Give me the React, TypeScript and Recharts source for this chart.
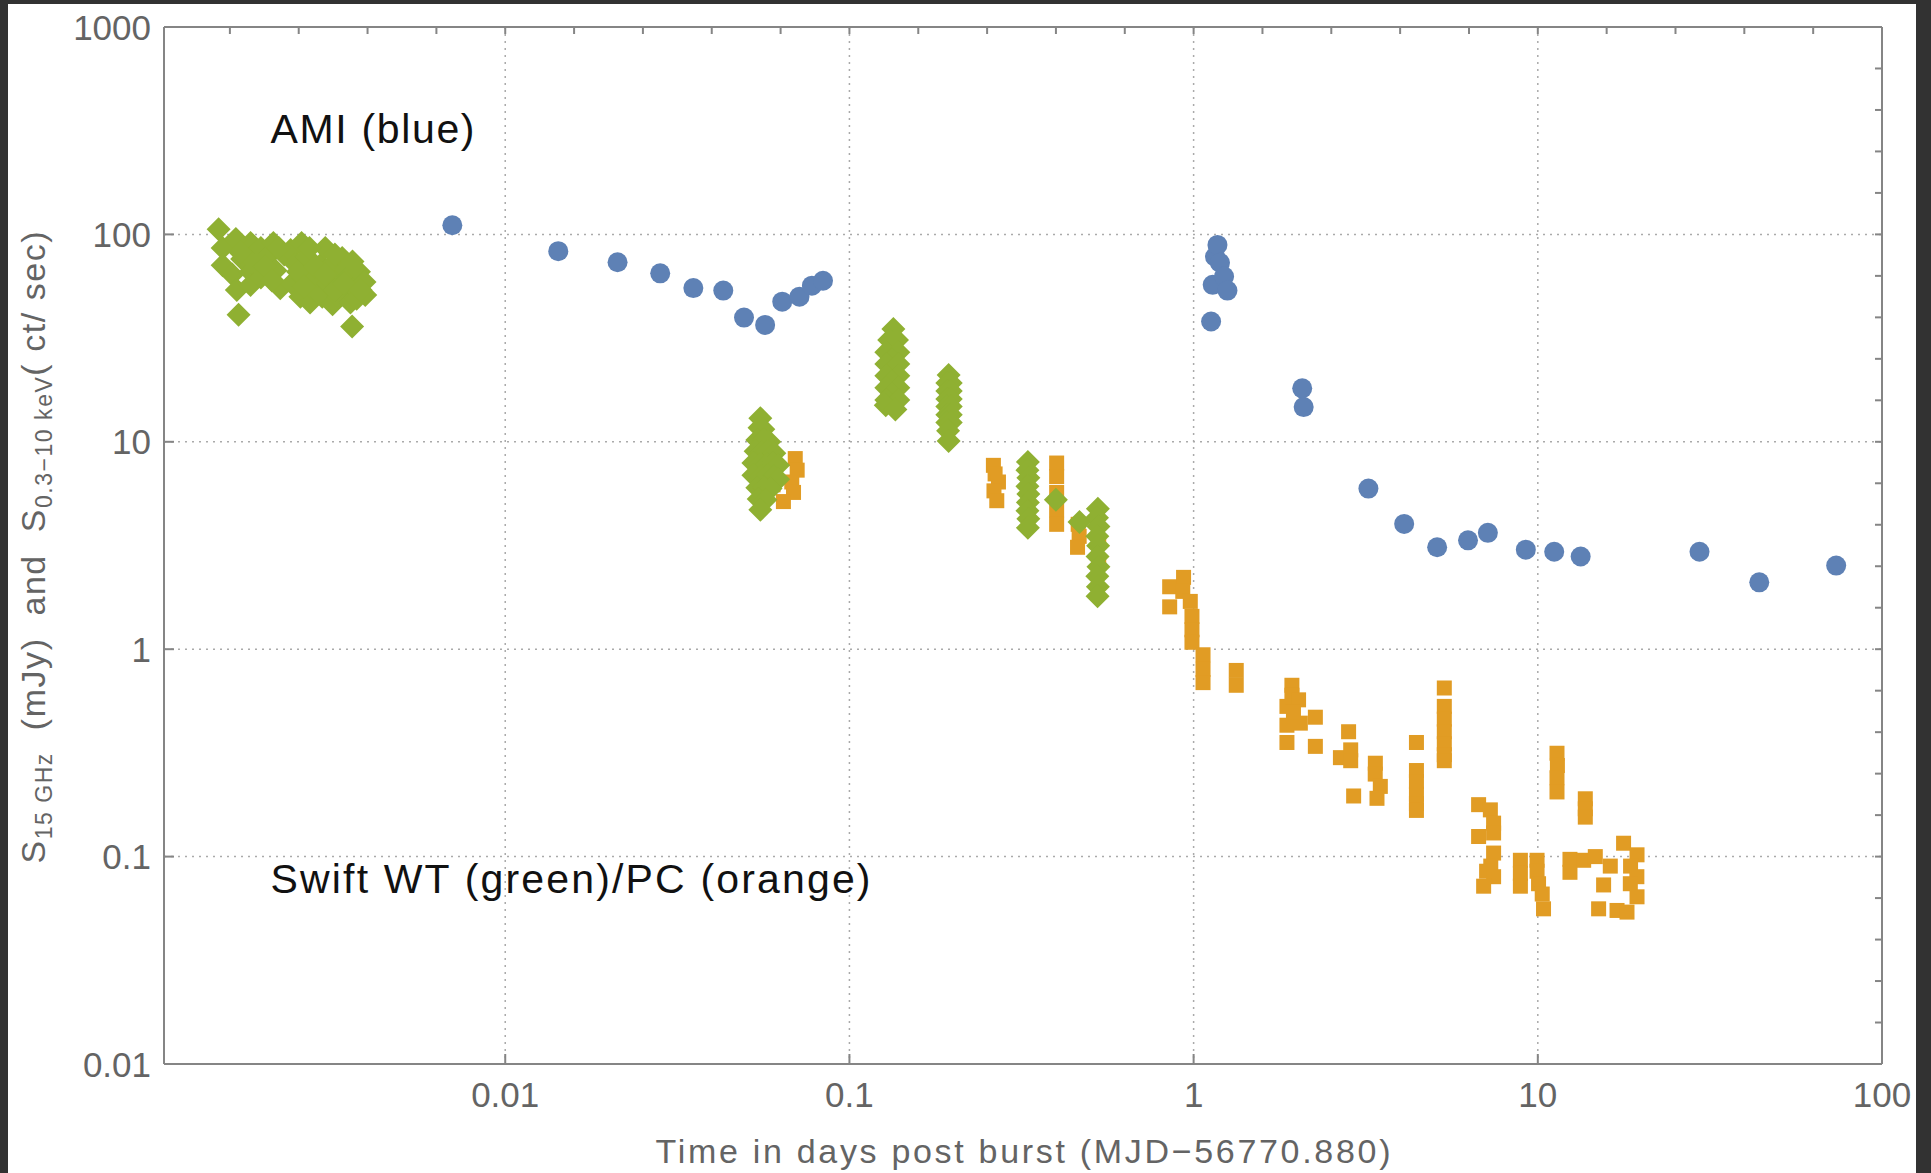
import React from "react";
import { ScatterChart, Scatter, XAxis, YAxis, CartesianGrid, ReferenceDot, Label } from "recharts";

// AMI 15 GHz flux density (mJy): [days post burst, value]
const amiData: number[][] = [
  [0.00702, 110.7], [0.01426, 83], [0.0212, 73.4], [0.0282, 64.9], [0.0352, 55.1], [0.043, 53.6],
  [0.0494, 39.7], [0.0569, 36.6], [0.0638, 47.4], [0.0716, 50.1], [0.0778, 56.6], [0.0838, 59.8],
  [1.124, 38], [1.136, 57.1], [1.154, 78], [1.173, 89], [1.193, 73], [1.226, 62.6], [1.254, 53.6],
  [2.068, 18.1], [2.088, 14.7], [3.22, 5.95], [4.09, 4.02], [5.1, 3.1], [6.27, 3.35], [7.16, 3.64],
  [9.23, 3.02], [11.16, 2.95], [13.32, 2.8], [29.5, 2.95], [44.0, 2.1], [73.6, 2.53],
];

// Swift XRT PC mode count rate (ct/s)
const pcData: number[][] = [
  [0.058, 7.6], [0.06, 6.2], [0.0696, 8.3], [0.0705, 7.3], [0.068, 6.4], [0.0688, 5.7], [0.0643, 5.15],
  [0.262, 7.7], [0.265, 7.0], [0.271, 6.4], [0.263, 5.8], [0.268, 5.2],
  [0.4, 7.9], [0.4, 6.8], [0.4, 5.7], [0.4, 4.7], [0.4, 4.0],
  [0.462, 4.0], [0.465, 3.5], [0.46, 3.1], [0.53, 3.3], [0.53, 2.6],
  [0.852, 2.0], [0.852, 1.6], [0.935, 2.22], [0.93, 1.9], [0.978, 1.7], [0.989, 1.44], [0.989, 1.24],
  [0.989, 1.08], [1.065, 0.94], [1.065, 0.8], [1.065, 0.69], [1.33, 0.79], [1.33, 0.67],
  [1.93, 0.67], [1.93, 0.6], [1.867, 0.53], [2.018, 0.57], [1.867, 0.43], [2.042, 0.44], [1.95, 0.5],
  [2.258, 0.47], [1.867, 0.355], [2.258, 0.34],
  [2.82, 0.4], [2.67, 0.3], [2.86, 0.327], [2.86, 0.29], [2.917, 0.196],
  [3.373, 0.282], [3.37, 0.25], [3.487, 0.218], [3.41, 0.191],
  [4.44, 0.355], [4.44, 0.26], [4.44, 0.23], [4.44, 0.2], [4.44, 0.18], [4.44, 0.167],
  [5.35, 0.65], [5.35, 0.53], [5.35, 0.46], [5.35, 0.4], [5.35, 0.35], [5.35, 0.31], [5.35, 0.29],
  [6.73, 0.178], [7.28, 0.168], [7.44, 0.145], [6.73, 0.125], [7.44, 0.13], [7.44, 0.104], [7.3, 0.09],
  [7.1, 0.085], [7.44, 0.08], [6.96, 0.072],
  [8.9, 0.096], [8.9, 0.083], [8.9, 0.072], [9.95, 0.096], [9.95, 0.085], [10.05, 0.074], [10.3, 0.066],
  [10.39, 0.056], [11.37, 0.315], [11.4, 0.275], [11.37, 0.24], [11.37, 0.205],
  [13.74, 0.19], [13.74, 0.17], [13.74, 0.155],
  [12.4, 0.097], [12.4, 0.084], [13.59, 0.096], [14.69, 0.1], [16.24, 0.09], [17.75, 0.116], [19.42, 0.102],
  [18.6, 0.09], [19.4, 0.08], [15.53, 0.073], [18.57, 0.074], [19.42, 0.064], [15.02, 0.056], [16.99, 0.055],
  [18.16, 0.054],
];

// Swift XRT WT mode count rate (ct/s)
const wtData: number[][] = [
  [0.00147, 106], [0.00151, 86], [0.00151, 71], [0.00161, 64], [0.00166, 54], [0.00168, 41],
  [0.00172, 76], [0.00182, 91], [0.00182, 77], [0.00182, 66], [0.00182, 57],
  [0.00195, 86], [0.00195, 62], [0.00205, 79], [0.00212, 91], [0.00215, 67],
  [0.00222, 55], [0.00228, 80], [0.00238, 84], [0.0024, 58], [0.00246, 72],
  [0.00254, 50], [0.00256, 91], [0.00259, 62], [0.00265, 78], [0.00271, 47],
  [0.00278, 54], [0.00285, 63], [0.0029, 71], [0.00294, 50], [0.003, 86],
  [0.00306, 58], [0.0031, 70], [0.00315, 46], [0.00325, 60], [0.00328, 50],
  [0.00336, 77], [0.00343, 54], [0.00345, 68], [0.0035, 62], [0.00355, 47],
  [0.00359, 36], [0.00365, 55], [0.0037, 49], [0.00376, 66], [0.0039, 59], [0.00392, 51],
  [0.00165, 95], [0.0017, 82], [0.0019, 72], [0.002, 70], [0.0021, 60], [0.0022, 86],
  [0.0025, 66], [0.0026, 56], [0.0027, 86], [0.0028, 70], [0.003, 64], [0.0032, 80],
  [0.0032, 54], [0.0034, 58], [0.0036, 74], [0.0038, 54],
  [0.0551, 13.0], [0.0548, 11.7], [0.0562, 11.5], [0.054, 10.2], [0.0565, 10.3], [0.0585, 10.0],
  [0.0534, 9.0], [0.0556, 8.9], [0.0578, 9.0], [0.0605, 8.8], [0.0526, 7.9], [0.0552, 7.8],
  [0.0577, 7.8], [0.06, 7.9], [0.0621, 7.7], [0.0526, 6.9], [0.0552, 6.8], [0.0578, 6.9],
  [0.0605, 6.8], [0.0621, 6.6], [0.054, 6.0], [0.0565, 6.0], [0.059, 5.95], [0.0545, 5.3],
  [0.057, 5.25], [0.0551, 4.7],
  [0.1342, 35], [0.1305, 31], [0.1375, 31], [0.128, 27], [0.1387, 27], [0.133, 25],
  [0.128, 23.7], [0.1387, 23.7], [0.128, 20.8], [0.1387, 20.8], [0.133, 19.5], [0.128, 18.2],
  [0.1387, 18.2], [0.133, 17], [0.128, 15.9], [0.1387, 15.9], [0.1275, 15.0], [0.136, 14.3],
  [0.1942, 21], [0.1925, 19.2], [0.197, 19.2], [0.1925, 17.6], [0.197, 17.6], [0.1925, 16.1],
  [0.197, 16.1], [0.1925, 14.8], [0.197, 14.8], [0.1925, 13.5], [0.197, 13.5], [0.1925, 12.4],
  [0.197, 12.4], [0.1935, 11.3], [0.1942, 10.1],
  [0.33, 8.0], [0.329, 7.3], [0.331, 6.7], [0.329, 6.1], [0.331, 5.6], [0.33, 5.1],
  [0.329, 4.65], [0.331, 4.25], [0.33, 3.85],
  [0.398, 5.25], [0.466, 4.1],
  [0.527, 4.75], [0.524, 4.3], [0.529, 3.9], [0.525, 3.5], [0.528, 3.15], [0.526, 2.8],
  [0.529, 2.5], [0.525, 2.25], [0.527, 2.0], [0.526, 1.8],
];

const X_DOMAIN = [0.00102, 100];
const Y_DOMAIN = [0.01, 1000];
const X_TICKS = [0.01, 0.1, 1, 10, 100];
const Y_TICKS = [0.01, 0.1, 1, 10, 100, 1000];
const X_MINOR = [
  0.001585, 0.002512, 0.003981, 0.00631, 0.01, 0.01585, 0.02512, 0.03981, 0.0631, 0.1,
  0.1585, 0.2512, 0.3981, 0.631, 1, 1.585, 2.512, 3.981, 6.31, 10, 15.85, 25.12, 39.81, 63.1, 100,
];
const Y_MINOR = [
  0.01, 0.01585, 0.02512, 0.03981, 0.0631, 0.1, 0.1585, 0.2512, 0.3981, 0.631, 1, 1.585, 2.512,
  3.981, 6.31, 10, 15.85, 25.12, 39.81, 63.1, 100, 158.5, 251.2, 398.1, 631, 1000,
];

const BLUE = "#5E81B5";
const ORANGE = "#E19C24";
const GREEN = "#8FB032";
const FRAME = "#858585";
const TEXT_GRAY = "#646464";
const FONT = '"Liberation Sans", Arial, sans-serif';

const toPts = (rows: number[][]) => rows.map(([t, f]) => ({ t, f }));

const BottomTick = (p: any) => (
  <g>
    <line x1={p.x} y1={p.y} x2={p.x} y2={p.y - 10} stroke={FRAME} strokeWidth={2} />
    <text x={p.x} y={p.y + 43} textAnchor="middle" fontSize={35} fill={TEXT_GRAY} fontFamily={FONT}>
      {String(p.payload.value)}
    </text>
  </g>
);

const LeftTick = (p: any) => (
  <g>
    <line x1={p.x} y1={p.y} x2={p.x + 10} y2={p.y} stroke={FRAME} strokeWidth={2} />
    <text x={p.x - 13} y={p.y + 12.5} textAnchor="end" fontSize={35} fill={TEXT_GRAY} fontFamily={FONT}>
      {String(p.payload.value)}
    </text>
  </g>
);

const TopTick = (p: any) => (
  <line x1={p.x} y1={p.y} x2={p.x} y2={p.y + 7} stroke={FRAME} strokeWidth={2} />
);

const RightTick = (p: any) => (
  <line x1={p.x} y1={p.y} x2={p.x - 7} y2={p.y} stroke={FRAME} strokeWidth={2} />
);

const XTitle = (p: any) => {
  const vb = p.viewBox;
  return (
    <text x={vb.x + vb.width / 2} y={vb.y + 99} textAnchor="middle" fontSize={34} fill={TEXT_GRAY}
      fontFamily={FONT} textLength={735} lengthAdjust="spacing">
      Time in days post burst (MJD−56770.880)
    </text>
  );
};

const YTitle = (p: any) => {
  const vb = p.viewBox;
  const cx = 37;
  const cy = vb.y + vb.height / 2 + 2;
  return (
    <text transform={`translate(${cx},${cy}) rotate(-90)`} x={0} y={0} textAnchor="middle" fontSize={34}
      fill={TEXT_GRAY} fontFamily={FONT} textLength={632} lengthAdjust="spacing" style={{ whiteSpace: "pre" }}>
      <tspan>S</tspan>
      <tspan fontSize={23} dy={7}>15 GHz</tspan>
      <tspan dy={-7}>  (mJy)  and  S</tspan>
      <tspan fontSize={23} dy={7}>0.3−10 keV</tspan>
      <tspan dy={-7}>( ct/ sec)</tspan>
    </text>
  );
};

const Circle = (p: any) => <circle cx={p.cx} cy={p.cy} r={10} fill={BLUE} />;
const Square = (p: any) => <rect x={p.cx - 7.5} y={p.cy - 7.5} width={15} height={15} fill={ORANGE} />;
const Diamond = (p: any) => (
  <polygon
    points={`${p.cx},${p.cy - 12} ${p.cx + 12},${p.cy} ${p.cx},${p.cy + 12} ${p.cx - 12},${p.cy}`}
    fill={GREEN}
  />
);

const note = (label: string, width: number) => (p: any) => (
  <text x={p.cx} y={p.cy} fontSize={41} fill="#111" fontFamily={FONT} textLength={width} lengthAdjust="spacing">
    {label}
  </text>
);

export default function App() {
  return (
    <div style={{ position: "absolute", left: 0, top: 0, width: 1931, height: 1173, background: "#323232" }}>
      <div style={{ position: "absolute", left: 8, top: 4, width: 1908, height: 1169, background: "#fff" }}>
        <ScatterChart width={1908} height={1169} margin={{ top: 0, right: 0, bottom: 0, left: 0 }}>
          <CartesianGrid stroke="#aaaaaa" strokeDasharray="2 5" strokeWidth={1.5} />
          <XAxis dataKey="t" type="number" scale="log" domain={X_DOMAIN} allowDataOverflow ticks={X_TICKS}
            interval={0} height={109} tickSize={0} tickMargin={0} tickLine={false}
            axisLine={{ stroke: FRAME, strokeWidth: 2 }} tick={BottomTick}>
            <Label content={XTitle} />
          </XAxis>
          <XAxis xAxisId="top" orientation="top" dataKey="t" type="number" scale="log" domain={X_DOMAIN}
            allowDataOverflow ticks={X_MINOR} interval={0} height={23} tickSize={0} tickMargin={0}
            tickLine={false} axisLine={{ stroke: FRAME, strokeWidth: 2 }} tick={TopTick} />
          <YAxis dataKey="f" type="number" scale="log" domain={Y_DOMAIN} allowDataOverflow ticks={Y_TICKS}
            interval={0} width={156} tickSize={0} tickMargin={0} tickLine={false}
            axisLine={{ stroke: FRAME, strokeWidth: 2 }} tick={LeftTick}>
            <Label content={YTitle} />
          </YAxis>
          <YAxis yAxisId="right" orientation="right" dataKey="f" type="number" scale="log" domain={Y_DOMAIN}
            allowDataOverflow ticks={Y_MINOR} interval={0} width={34} tickSize={0} tickMargin={0}
            tickLine={false} axisLine={{ stroke: FRAME, strokeWidth: 2 }} tick={RightTick} />
          <Scatter data={toPts(amiData)} shape={Circle} isAnimationActive={false} />
          <Scatter data={toPts(pcData)} shape={Square} isAnimationActive={false} />
          <Scatter data={toPts(wtData)} shape={Diamond} isAnimationActive={false} />
          <ReferenceDot x={0.00208} y={276} r={1} shape={note("AMI (blue)", 204)} />
          <ReferenceDot x={0.00208} y={0.0668} r={1} shape={note("Swift WT (green)/PC (orange)", 600)} />
        </ScatterChart>
      </div>
    </div>
  );
}
